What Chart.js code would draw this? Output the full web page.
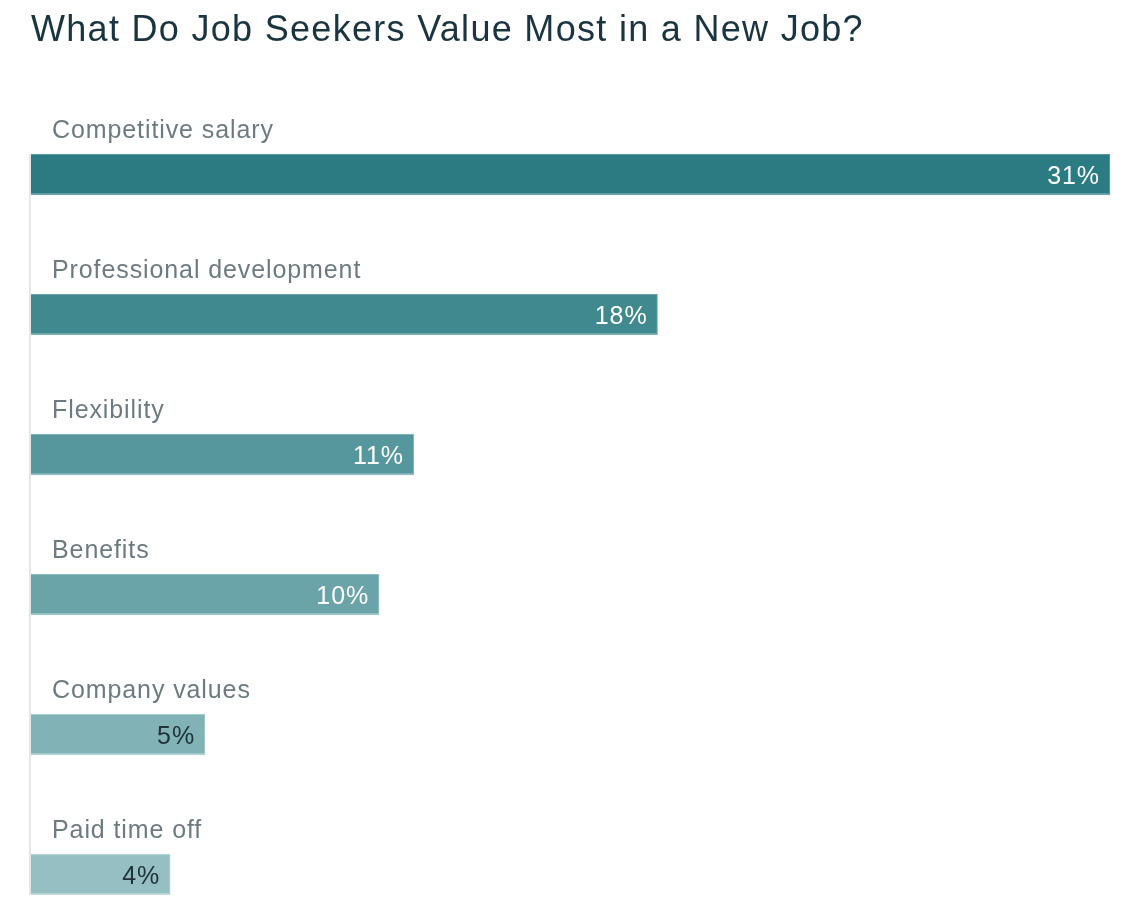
<!DOCTYPE html>
<html lang="en">
<head>
    <meta charset="UTF-8">
    <title>What Do Job Seekers Value Most in a New Job?</title>
    <style>
        html, body { margin: 0; padding: 0; background: #fff; }
        #jobChart { display: block; }
    </style>
</head>
<body>
    <canvas id="jobChart" width="1144" height="918"></canvas>

    <script src="https://cdn.jsdelivr.net/npm/chart.js"></script>
    <script>
        const chartTitle = 'What Do Job Seekers Value Most in a New Job?';
        const categories = ['Competitive salary', 'Professional development', 'Flexibility', 'Benefits', 'Company values', 'Paid time off'];
        const shares = [31, 18, 11, 10, 5, 4];
        const barColors = ['#2b7b82', '#40898f', '#55979c', '#6aa4a9', '#80b2b6', '#95bfc3'];
        const barEdgeColors = ['#6fa6ab', '#7fb1b5', '#8fbcc0', '#a0c7ca', '#b1d2d4', '#c2dcde'];
        const valueColors = ['#ffffff', '#ffffff', '#ffffff', '#ffffff', '#22323a', '#22323a'];

        const FONT = "'Liberation Sans', Arial, Helvetica, sans-serif";

        // labels above bars, % inside bar ends, and the thin left rule
        const barText = {
            id: 'barText',
            beforeDraw(chart) {
                chart.ctx.letterSpacing = '1.3px';
            },
            beforeDatasetsDraw(chart) {
                const ctx = chart.ctx;
                const bars = chart.getDatasetMeta(0).data;
                const first = bars[0], last = bars[bars.length - 1];
                ctx.save();
                ctx.fillStyle = '#e6e6e6';
                ctx.fillRect(chart.chartArea.left - 2, first.y - first.height / 2, 2, (last.y + last.height / 2) - (first.y - first.height / 2));
                ctx.restore();
            },
            afterDatasetsDraw(chart) {
                const ctx = chart.ctx;
                const bars = chart.getDatasetMeta(0).data;
                ctx.save();
                ctx.letterSpacing = '0.9px';
                bars.forEach((bar, i) => {
                    ctx.font = '25px ' + FONT;
                    ctx.fillStyle = '#6d7b81';
                    ctx.textAlign = 'left';
                    ctx.textBaseline = 'alphabetic';
                    ctx.fillText(categories[i], chart.chartArea.left + 21, bar.y - 37);

                    ctx.font = '25px ' + FONT;
                    ctx.fillStyle = valueColors[i];
                    ctx.textAlign = 'right';
                    ctx.fillText(shares[i] + '%', bar.x - 10, bar.y + 9);
                });
                ctx.restore();
            }
        };

        new Chart(document.getElementById('jobChart'), {
            type: 'bar',
            data: {
                labels: categories,
                datasets: [{
                    data: shares,
                    backgroundColor: barColors,
                    borderColor: barEdgeColors,
                    borderWidth: { top: 1, right: 1, bottom: 2, left: 0 },
                    borderSkipped: false,
                    barThickness: 41,
                    clip: false
                }]
            },
            options: {
                indexAxis: 'y',
                responsive: false,
                animation: false,
                layout: { padding: { left: 31, right: 34, top: 0, bottom: 43.5 } },
                scales: {
                    x: { display: false, min: 0, max: 31 },
                    y: { display: false, offset: false }
                },
                plugins: {
                    legend: { display: false },
                    tooltip: { enabled: false },
                    title: {
                        display: true,
                        text: chartTitle,
                        align: 'start',
                        color: '#1b3540',
                        font: { family: FONT, size: 36, weight: 'normal', lineHeight: 1.2 },
                        padding: { top: 9, bottom: 122.3 }
                    }
                }
            },
            plugins: [barText]
        });
    </script>
</body>
</html>
